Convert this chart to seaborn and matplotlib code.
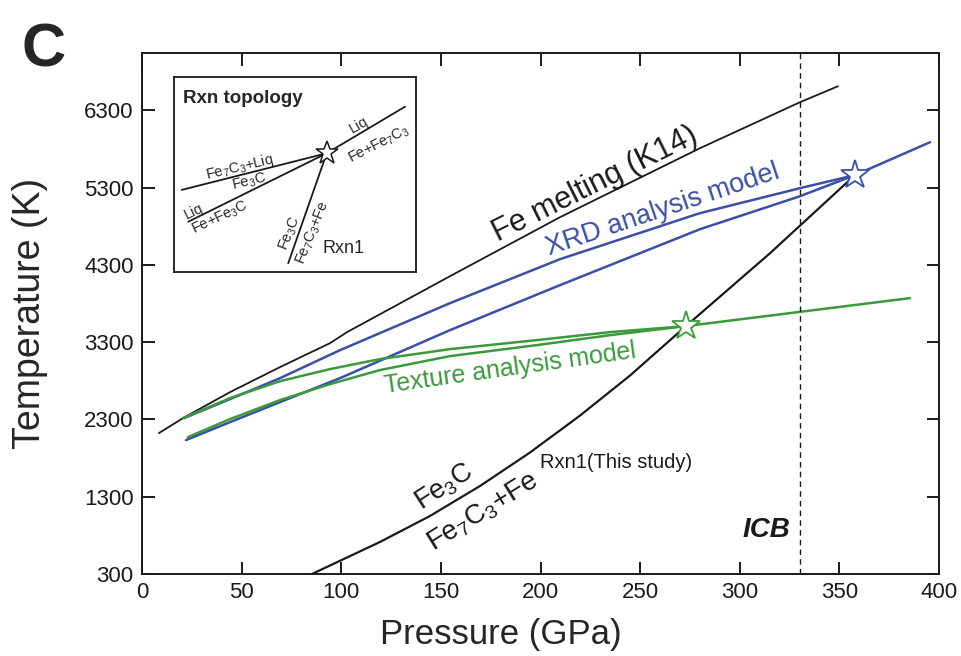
import matplotlib
matplotlib.use("Agg")
import matplotlib.pyplot as plt
import seaborn as sns
import pandas as pd

# ---------------- data ----------------
fe_melt_P = [8.5, 20.6, 44.2, 69.3, 94.4, 102.9, 154.6, 209.8, 280.0, 330.2, 349.3]
fe_melt_T = [2123, 2317, 2653, 2977, 3287, 3429, 4153, 4916, 5808, 6403, 6610]

xrd_upper_P = [21.1, 44.2, 69.3, 99.4, 154.6, 209.8, 280.0, 330.2, 357.8]
xrd_upper_T = [2317, 2563, 2834, 3196, 3804, 4373, 4968, 5291, 5460]
xrd_lower_P = [22.1, 44.2, 69.3, 99.4, 154.6, 209.8, 280.0, 330.2, 357.8]
xrd_lower_T = [2033, 2265, 2524, 2834, 3455, 4037, 4760, 5187, 5460]
xrd_tail_P = [357.8, 395.5]
xrd_tail_T = [5460, 5886]

tex_upper_P = [20.6, 44.2, 69.3, 94.4, 119.4, 154.6, 198.2, 234.9, 273.0]
tex_upper_T = [2317, 2576, 2795, 2951, 3080, 3209, 3326, 3429, 3507]
tex_lower_P = [23.1, 44.2, 69.3, 94.4, 119.4, 154.6, 198.2, 234.9, 273.0]
tex_lower_T = [2071, 2304, 2550, 2757, 2938, 3119, 3261, 3390, 3507]
tex_tail_P = [273.0, 385.4]
tex_tail_T = [3507, 3869]

rxn1_P = [85.3, 119.4, 144.5, 169.6, 194.7, 219.8, 244.9, 273.0, 315.2, 357.8]
rxn1_T = [300, 714, 1050, 1438, 1871, 2349, 2867, 3507, 4450, 5460]

star_P = [357.8, 273.0]
star_T = [5460, 3507]
icb_P = 330

x_ticks = [0, 50, 100, 150, 200, 250, 300, 350, 400]
y_ticks = [300, 1300, 2300, 3300, 4300, 5300, 6300]

# inset schematic (0-100 schematic units)
inset_star = (63.1, 60.9)
inset_line_a = ([3.2, 63.1], [42.1, 60.9])
inset_line_b = ([5.9, 63.1], [25.8, 60.9])
inset_line_c = ([63.1, 95.5], [60.9, 84.8])
inset_line_d = ([47.2, 63.1], [4.5, 60.9])

# ---------------- colours ----------------
BLACK = "#1a1a1a"
BLUE = "#3a4fa6"
GREEN = "#3a9a3c"

sns.set_style("ticks")
plt.rcParams["font.family"] = ["Liberation Sans", "DejaVu Sans"]
plt.rcParams["mathtext.fontset"] = "custom"
plt.rcParams["mathtext.rm"] = "Liberation Sans"
plt.rcParams["mathtext.it"] = "Liberation Sans:italic"
plt.rcParams["mathtext.bf"] = "Liberation Sans:bold"
plt.rcParams["mathtext.default"] = "regular"

fig = plt.figure(figsize=(9.61, 6.56), dpi=100)
ax = fig.add_axes([142 / 961, 1 - 574 / 656, (939 - 142) / 961, (574 - 53) / 656])


def draw(P, T, color, lw=1.6):
    df = pd.DataFrame({"P": P, "T": T})
    sns.lineplot(data=df, x="P", y="T", ax=ax, color=color, lw=lw,
                 sort=False, estimator=None, legend=False)


draw(fe_melt_P, fe_melt_T, BLACK, 1.3)
draw(rxn1_P, rxn1_T, BLACK, 1.6)
draw(xrd_upper_P, xrd_upper_T, BLUE, 1.8)
draw(xrd_lower_P, xrd_lower_T, BLUE, 1.8)
draw(xrd_tail_P, xrd_tail_T, BLUE, 1.8)
draw(tex_upper_P, tex_upper_T, GREEN, 1.8)
draw(tex_lower_P, tex_lower_T, GREEN, 1.8)
draw(tex_tail_P, tex_tail_T, GREEN, 1.8)

ax.axvline(icb_P, color=BLACK, lw=1.0, ls=(0, (4, 3)))

ax.plot(star_P[0], star_T[0], marker="*", ms=21, mfc="white", mec=BLUE, mew=1.3, zorder=5)
ax.plot(star_P[1], star_T[1], marker="*", ms=21, mfc="white", mec=GREEN, mew=1.3, zorder=5)

ax.set_xlim(0, 400)
ax.set_ylim(300, 7040)
ax.set_xticks(x_ticks)
ax.set_yticks(y_ticks)
ax.tick_params(direction="in", length=9, width=1.4, labelsize=16,
               top=True, right=True, pad=6, colors=BLACK)
for s in ax.spines.values():
    s.set_linewidth(1.4)
    s.set_color(BLACK)

ax.set_xlabel("Pressure (GPa)", fontsize=25)
ax.xaxis.set_label_coords(0.45, -0.085)
ax.set_ylabel("Temperature (K)", fontsize=27)
ax.yaxis.set_label_coords(-0.118, 0.5)

# annotations
ax.text(227.4, 5343, "Fe melting (K14)", fontsize=22, rotation=26.5,
        rotation_mode="anchor", ha="center", va="center", color=BLACK)
ax.text(261.5, 5007, "XRD analysis model", fontsize=19.5, rotation=18.5,
        rotation_mode="anchor", ha="center", va="center", color=BLUE)
ax.text(184.7, 2964, "Texture analysis model", fontsize=18, rotation=8,
        rotation_mode="anchor", ha="center", va="center", color=GREEN)
ax.text(199.7, 1748, "Rxn1(This study)", fontsize=14.5, ha="left", va="center", color=BLACK)
ax.text(151.5, 1430, "Fe$_3$C", fontsize=19.5, rotation=33,
        rotation_mode="anchor", ha="center", va="center", color=BLACK)
ax.text(171.0, 1100, "Fe$_7$C$_3$+Fe", fontsize=20, rotation=32,
        rotation_mode="anchor", ha="center", va="center", color=BLACK)
ax.text(313.2, 869, "ICB", fontsize=20, fontweight="bold", fontstyle="italic",
        ha="center", va="center", color=BLACK)

fig.text(0.022, 0.965, "C", fontsize=44, fontweight="bold", va="top", ha="left")

# inset
ins = fig.add_axes([174 / 961, 1 - 272 / 656, (416 - 174) / 961, (272 - 77) / 656])
ins.set_xlim(0, 100)
ins.set_ylim(0, 100)
ins.set_xticks([])
ins.set_yticks([])
for s in ins.spines.values():
    s.set_linewidth(1.3)
    s.set_color(BLACK)
for lx, ly in (inset_line_a, inset_line_b, inset_line_c, inset_line_d):
    sns.lineplot(x=lx, y=ly, ax=ins, color=BLACK, lw=1.3, sort=False, estimator=None)
ins.plot(*inset_star, marker="*", ms=17, mfc="white", mec=BLACK, mew=1.1, zorder=5)

fs_i = 10.5
ins.text(3.7, 89.2, "Rxn topology", fontsize=13.5, fontweight="bold", ha="left", va="center")
ins.text(27.3, 53.6, "Fe$_7$C$_3$+Liq", fontsize=fs_i, rotation=13.4, rotation_mode="anchor",
         ha="center", va="center")
ins.text(31.2, 46.2, "Fe$_3$C", fontsize=fs_i, rotation=13.4, rotation_mode="anchor",
         ha="center", va="center")
ins.text(8.3, 30.8, "Liq", fontsize=fs_i, rotation=25, rotation_mode="anchor",
         ha="center", va="center")
ins.text(19.0, 28.0, "Fe+Fe$_3$C", fontsize=fs_i, rotation=25, rotation_mode="anchor",
         ha="center", va="center")
ins.text(76.2, 75.4, "Liq", fontsize=fs_i, rotation=30, rotation_mode="anchor",
         ha="center", va="center")
ins.text(84.7, 65.6, "Fe+Fe$_7$C$_3$", fontsize=fs_i, rotation=27, rotation_mode="anchor",
         ha="center", va="center")
ins.text(47.9, 19.5, "Fe$_3$C", fontsize=fs_i, rotation=68, rotation_mode="anchor",
         ha="center", va="center")
ins.text(57.4, 20.0, "Fe$_7$C$_3$+Fe", fontsize=fs_i, rotation=68, rotation_mode="anchor",
         ha="center", va="center")
ins.text(70.2, 12.3, "Rxn1", fontsize=13, ha="center", va="center")

fig.savefig("out.png", dpi=100)
